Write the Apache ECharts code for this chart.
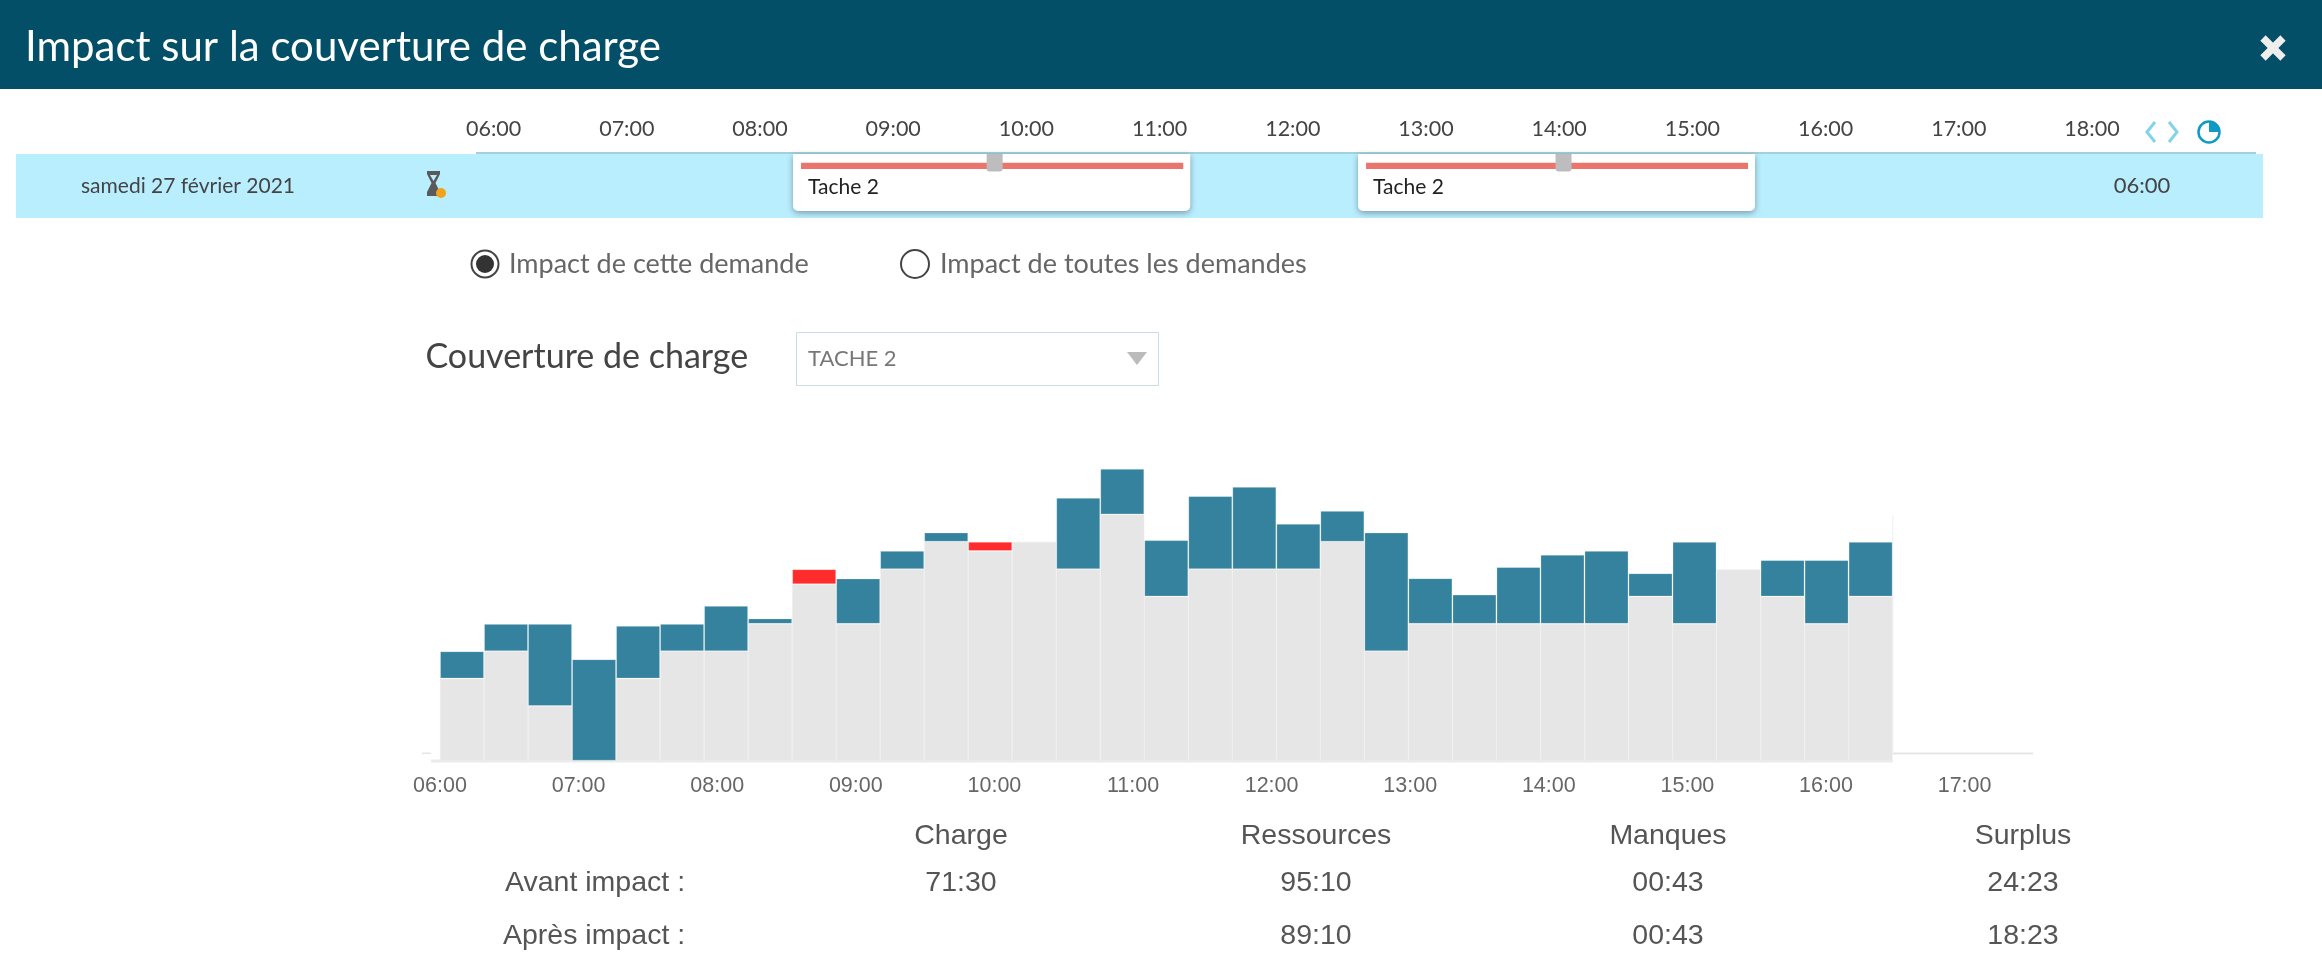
<!DOCTYPE html>
<html lang="fr">
<head>
<meta charset="utf-8">
<title>Impact sur la couverture de charge</title>
<style>
html,body{margin:0;padding:0;background:#fff;overflow:hidden}
#chart{width:2322px;height:958px}
</style>
<script src="https://cdn.jsdelivr.net/npm/echarts@6/dist/echarts.min.js"></script>
</head>
<body>
<div id="chart"></div>
<script>
// Load coverage per time slot, in resource units
const slots = ['06:00','06:19','06:38','06:57','07:16','07:35','07:54','08:13','08:32','08:51','09:10','09:29','09:48','10:07','10:26','10:45','11:04','11:23','11:42','12:01','12:20','12:39','12:58','13:17','13:36','13:55','14:14','14:33','14:52','15:11','15:30','15:49','16:08'];
const charge = [3,4,2,0,3,4,4,5,7,5,7,8,8,8,7,9,6,7,7,7,8,4,5,5,5,5,5,6,5,7,6,5,6];
const ressources = [4,5,5,3.71,4.93,5,5.66,5.2,6.45,6.66,7.67,8.34,7.66,8,9.61,10.67,8.06,9.67,10.01,8.66,9.13,8.34,6.67,6.07,7.08,7.53,7.67,6.85,8,7,7.33,7.33,8];

// Planning strip
const taskNames = ['Tache 2','Tache 2'];
const taskStarts = [8.248,12.49];
const taskEnds = [11.23,15.47];

// Summary table
const statHeaders = ['Charge','Ressources','Manques','Surplus'];
const statRowLabels = ['Avant impact :','Après impact :'];
const statAvant = ['71:30','95:10','00:43','24:23'];
const statApres = ['','89:10','00:43','18:23'];

const couvert = charge.map((c,i)=>Math.min(c,ressources[i]));
const surplus = charge.map((c,i)=>Math.max(ressources[i]-c,0));
const manque = charge.map((c,i)=>Math.max(c-ressources[i],0));

const hourLabel = v => Number.isInteger(v) ? String(v).padStart(2,'0')+':00' : '';
const LATO = 'Lato, "Open Sans", sans-serif';
const ARIAL = '"Liberation Sans", Arial, sans-serif';

function txt(text,x,y,size,fill,align,family,weight){
  return {type:'text',x,y,silent:true,style:{text,fontSize:size,fontFamily:family||LATO,fontWeight:weight||'normal',fill,align:align||'left',verticalAlign:'middle'}};
}
function box(x,y,w,h,fill,extra){
  return Object.assign({type:'rect',silent:true,shape:{x,y,width:w,height:h},style:{fill}},extra||{});
}

const colX = [961,1316,1668,2023];
const tableTexts = [];
statHeaders.forEach((h,i)=>tableTexts.push(txt(h,colX[i],836,28.5,'#555','center',ARIAL)));
statRowLabels.forEach((h,i)=>tableTexts.push(txt(h,i?503:505,i?936:883,28.5,'#555','left',ARIAL)));
statAvant.forEach((v,i)=>tableTexts.push(txt(v,colX[i],883,28.5,'#555','center',ARIAL)));
statApres.forEach((v,i)=>{ if(v) tableTexts.push(txt(v,colX[i],936,28.5,'#555','center',ARIAL)); });

const chrome = [
  // header band
  box(0,0,2322,89,'#024f67'),
  txt('Impact sur la couverture de charge',25,47,42,'#ffffff'),
  {type:'line',silent:true,shape:{x1:2263,y1:38,x2:2283,y2:58},style:{stroke:'#eeeeee',lineWidth:7.5}},
  {type:'line',silent:true,shape:{x1:2283,y1:38,x2:2263,y2:58},style:{stroke:'#eeeeee',lineWidth:7.5}},
  // planning row
  box(16,154,2247,64,'#b9eeff'),
  box(476,152,1780,2,'#a3d0de'),
  txt('samedi 27 février 2021',81,186,21,'#444'),
  {type:'polygon',silent:true,shape:{points:[[427,171],[440,171],[440,174],[435.5,183],[440,192],[440,196],[427,196],[427,192],[431.5,183],[427,174]]},style:{fill:'#5a5a5a'}},
  {type:'polygon',silent:true,shape:{points:[[430,175],[437,175],[433.5,181]]},style:{fill:'#b9eeff'}},
  {type:'circle',silent:true,shape:{cx:441,cy:193,r:5},style:{fill:'#f2a31c'}},
  txt('06:00',2142,186,22,'#444','center'),
  // timeline navigation
  {type:'polyline',silent:true,shape:{points:[[2155,122],[2147,132],[2155,142]]},style:{stroke:'#83d3ea',fill:'none',lineWidth:3}},
  {type:'polyline',silent:true,shape:{points:[[2169,122],[2177,132],[2169,142]]},style:{stroke:'#83d3ea',fill:'none',lineWidth:3}},
  {type:'circle',silent:true,shape:{cx:2209,cy:132,r:10.5},style:{fill:'#fff',stroke:'#0f9ac4',lineWidth:2.5}},
  {type:'sector',silent:true,shape:{cx:2209,cy:132,r:10,r0:0,startAngle:-Math.PI/2,endAngle:0},style:{fill:'#0f9ac4'}},
  // scope radios
  {type:'circle',silent:true,shape:{cx:485,cy:264,r:13.5},style:{fill:'#fff',stroke:'#444',lineWidth:2}},
  {type:'circle',silent:true,shape:{cx:485,cy:264,r:9},style:{fill:'#333'}},
  txt('Impact de cette demande',509,264,27,'#666'),
  {type:'circle',silent:true,shape:{cx:915,cy:264,r:14},style:{fill:'#fff',stroke:'#444',lineWidth:2}},
  txt('Impact de toutes les demandes',940,264,27,'#666'),
  // load selector
  txt('Couverture de charge',425.5,357,34,'#444'),
  box(796.5,332.5,362,53,'#fff',{style:{fill:'#fff',stroke:'#c8dde6',lineWidth:1}}),
  txt('TACHE 2',808,359,22,'#777'),
  {type:'polygon',silent:true,shape:{points:[[1127,352],[1147,352],[1137,365]]},style:{fill:'#bbbbbb'}},
  // coverage baseline and plot edge
  box(431,759.5,1461.6,3,'#ebebeb'),
  box(1892.6,752.5,140.4,2,'#e6e6e6'),
  box(422,752.5,9,1.5,'#e6e6e6'),
  box(1892.3,516,1,236,'#eeeeee')
].concat(tableTexts);

const barStyle = {type:'bar',xAxisIndex:0,yAxisIndex:0,stack:'couverture',barCategoryGap:0,silent:true,animation:false};

const option = {
  animation:false,
  backgroundColor:'#ffffff',
  graphic:{elements:chrome},
  grid:[
    {left:440,top:432.3,width:1452.6,height:328.4},
    {left:440,top:432.3,width:1663.2,height:328.4},
    {left:493.6,top:154,width:1598.4,height:64}
  ],
  xAxis:[
    {gridIndex:0,type:'category',data:slots,show:false},
    {gridIndex:1,type:'value',min:6,max:18,interval:1,
     axisLine:{show:false},axisTick:{show:false},splitLine:{show:false},
     axisLabel:{formatter:hourLabel,color:'#666',fontSize:21.5,fontFamily:ARIAL,margin:14,showMaxLabel:false}},
    {gridIndex:2,type:'value',position:'top',min:6,max:18,interval:1,
     axisLine:{show:false},axisTick:{show:false},splitLine:{show:false},
     axisLabel:{formatter:hourLabel,color:'#444',fontSize:21.5,fontFamily:LATO,margin:14}}
  ],
  yAxis:[
    {gridIndex:0,type:'value',min:0,max:12,show:false},
    {gridIndex:1,type:'value',min:0,max:12,show:false},
    {gridIndex:2,type:'value',min:0,max:1,show:false}
  ],
  series:[
    Object.assign({},barStyle,{name:'Couvert',data:couvert,itemStyle:{color:'#e6e6e6',borderColor:'#eeeeee',borderWidth:0.6}}),
    Object.assign({},barStyle,{name:'Surplus',data:surplus,itemStyle:{color:'#34829d',borderColor:'rgba(255,255,255,0.22)',borderWidth:1}}),
    Object.assign({},barStyle,{name:'Manques',data:manque,itemStyle:{color:'#ff2c2e',borderColor:'rgba(255,255,255,0.22)',borderWidth:1}}),
    {
      type:'custom',name:'Tâches',xAxisIndex:2,yAxisIndex:2,silent:true,clip:false,
      data:taskStarts.map((s,i)=>[s,taskEnds[i]]),
      renderItem:function(params,api){
        const x0 = api.coord([api.value(0),1])[0];
        const x1 = api.coord([api.value(1),1])[0];
        const top = api.coord([6,1])[1];
        const mid = x0+(x1-x0)*0.5+(params.dataIndex?7:3);
        return {type:'group',children:[
          {type:'rect',shape:{x:x0,y:top,width:x1-x0,height:57,r:[0,0,5,5]},
           style:{fill:'#fff',shadowBlur:6,shadowColor:'rgba(0,0,0,0.35)',shadowOffsetY:2}},
          {type:'rect',shape:{x:x0+8,y:top+8.7,width:x1-x0-15,height:6.3},style:{fill:'#e9756c'}},
          {type:'rect',shape:{x:mid-8,y:top,width:16,height:17.5,r:[0,0,3,3]},style:{fill:'#bdbdbd'}},
          {type:'text',x:x0+15,y:top+33,style:{text:taskNames[params.dataIndex],fontSize:21,fontFamily:LATO,fill:'#222',verticalAlign:'middle'}}
        ]};
      }
    }
  ]
};

const chart = echarts.init(document.getElementById('chart'),null,{renderer:'canvas'});
chart.setOption(option);
</script>
</body>
</html>
